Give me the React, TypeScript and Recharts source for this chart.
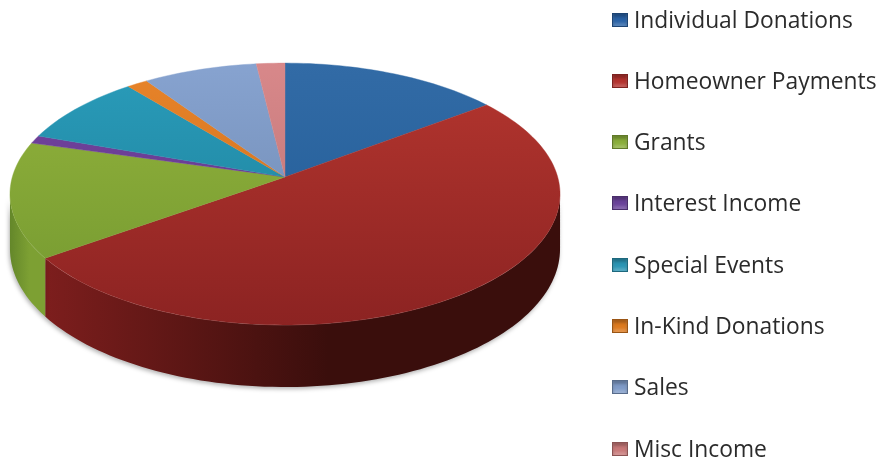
import { Legend, Pie, PieChart } from "recharts"

const categories = [
  "Individual Donations",
  "Homeowner Payments",
  "Grants",
  "Interest Income",
  "Special Events",
  "In-Kind Donations",
  "Sales",
  "Misc Income",
]
const shares = [14.7, 50.4, 14.3, 1.0, 8.7, 1.4, 7.6, 1.9]

// top face gradient, far edge to near edge
const topLight = ["#326ba6", "#b5362f", "#93b33c", "#74459f", "#2a9cba", "#e8842a", "#87a3d0", "#d8888a"]
const topDark = ["#1f5a94", "#8c2322", "#739830", "#5e3488", "#1b7c96", "#c86a18", "#6a85ac", "#b86f70"]
const wallLeft = ["#173f6b", "#7d1e1d", "#64872a", "#432660", "#14596c", "#914c10", "#4d607c", "#854f50"]
const wallRight = ["#12304f", "#3a0e0c", "#7da033", "#361e4e", "#104757", "#753d0c", "#3e4d63", "#6b4041"]
const swatches = ["#2a62a6", "#b3322e", "#8aae3a", "#6a429a", "#2a95b4", "#dd7a1e", "#7f9bc8", "#c87878"]

const pieData = categories.map((name, i) => ({
  name,
  value: shares[i],
  fill: `url(#top-${i})`,
  wall: `url(#wall-${i})`,
  swatch: swatches[i],
}))

// the disk is seen in perspective: the far side shrinks, so the apex sits above the ellipse centre
const TILT = 0.472
const PERSPECTIVE = 0.13
const DEPTH = 54

function project(cx: number, cy: number, r: number, theta: number) {
  const rad = (theta * Math.PI) / 180
  const w = 1 + PERSPECTIVE * Math.cos(rad)
  return {
    x: cx + (r * Math.sin(rad)) / w,
    y: cy - (r * TILT * Math.cos(rad)) / w,
    drop: DEPTH / w,
  }
}

function arcPoints(cx: number, cy: number, r: number, from: number, to: number) {
  const steps = Math.max(2, Math.ceil((to - from) / 1.5))
  const pts = []
  for (let i = 0; i <= steps; i++) pts.push(project(cx, cy, r, from + ((to - from) * i) / steps))
  return pts
}

const line = (pts: { x: number; y: number }[]) =>
  pts.map((p, i) => `${i ? "L" : "M"}${p.x.toFixed(2)},${p.y.toFixed(2)}`).join(" ")

function TopFace(props: any) {
  const { cx, cy, outerRadius, startAngle, endAngle, fill } = props
  const pts = arcPoints(cx, cy, outerRadius, 90 - startAngle, 90 - endAngle)
  return <path d={`M${cx},${cy} ${line(pts).replace("M", "L")} Z`} fill={fill} stroke={fill} strokeWidth={0.4} />
}

function WallFace(props: any) {
  const { cx, cy, outerRadius, startAngle, endAngle } = props
  const wall = props.wall ?? props.payload?.wall
  const edge = (Math.acos(-PERSPECTIVE) * 180) / Math.PI
  const from = Math.max(90 - startAngle, edge)
  const to = Math.min(90 - endAngle, 360 - edge)
  if (to <= from) return <g />
  const rim = arcPoints(cx, cy, outerRadius, from, to)
  const base = rim.map((p) => ({ x: p.x, y: p.y + p.drop })).reverse()
  const highlight = arcPoints(cx, cy, outerRadius - 1, from, to)
  return (
    <g>
      <path
        d={`${line(rim)} ${line(base).replace("M", "L")} Z`}
        fill={wall}
        style={{ filter: "drop-shadow(-1px 2px 2px rgba(0,0,0,0.3))" }}
      />
      <path d={line(highlight)} fill="none" stroke="#ffffff" strokeOpacity={0.18} strokeWidth={2} />
    </g>
  )
}

function LegendList({ payload }: any) {
  const rows = (payload ?? []).filter((p: any) => p.type !== "none")
  return (
    <div style={{ fontFamily: "'Open Sans', sans-serif", fontSize: 22.8, lineHeight: "24px", color: "#2b2b2b" }}>
      {rows.map((row: any) => (
        <div
          key={row.value}
          style={{ display: "flex", alignItems: "center", height: 24, marginBottom: 37.3, whiteSpace: "nowrap" }}
        >
          <span
            style={{
              width: 14,
              height: 12,
              marginRight: 6,
              border: "1px solid rgba(0,0,0,0.3)",
              background: row.payload.swatch,
              boxShadow: "inset 0 3px 3px rgba(0,0,0,0.25), inset 0 -3px 3px rgba(255,255,255,0.2)",
            }}
          />
          {row.value}
        </div>
      ))}
    </div>
  )
}

export default function App() {
  return (
    <div style={{ position: "absolute", left: 0, top: 0, width: 882, height: 461, background: "#fff", filter: "blur(0.4px)" }}>
      <PieChart width={882} height={461} margin={{ top: 0, right: 0, bottom: 0, left: 0 }}>
        <defs>
          {categories.map((_, i) => (
            <linearGradient key={`top-${i}`} id={`top-${i}`} gradientUnits="userSpaceOnUse" x1="0" y1="63" x2="0" y2="325">
              <stop offset="0%" stopColor={topLight[i]} />
              <stop offset="100%" stopColor={topDark[i]} />
            </linearGradient>
          ))}
          {categories.map((_, i) => (
            <linearGradient key={`wall-${i}`} id={`wall-${i}`} x1="0" y1="0" x2="1" y2="0">
              <stop offset="0%" stopColor={wallLeft[i]} />
              <stop offset="55%" stopColor={wallRight[i]} />
              <stop offset="100%" stopColor={wallRight[i]} />
            </linearGradient>
          ))}
        </defs>
        <Pie
          data={pieData}
          dataKey="value"
          cx={285}
          cy={177}
          outerRadius={272.7}
          startAngle={90}
          endAngle={-270}
          legendType="none"
          stroke="none"
          shape={WallFace}
          isAnimationActive={false}
        />
        <Pie
          data={pieData}
          dataKey="value"
          cx={285}
          cy={177}
          outerRadius={272.7}
          startAngle={90}
          endAngle={-270}
          stroke="none"
          shape={TopFace}
          isAnimationActive={false}
        />
        <Legend
          layout="vertical"
          itemSorter={null}
          content={<LegendList />}
          wrapperStyle={{ position: "absolute", left: 612, top: 7.5, width: 270, bottom: "auto" }}
        />
      </PieChart>
    </div>
  )
}
